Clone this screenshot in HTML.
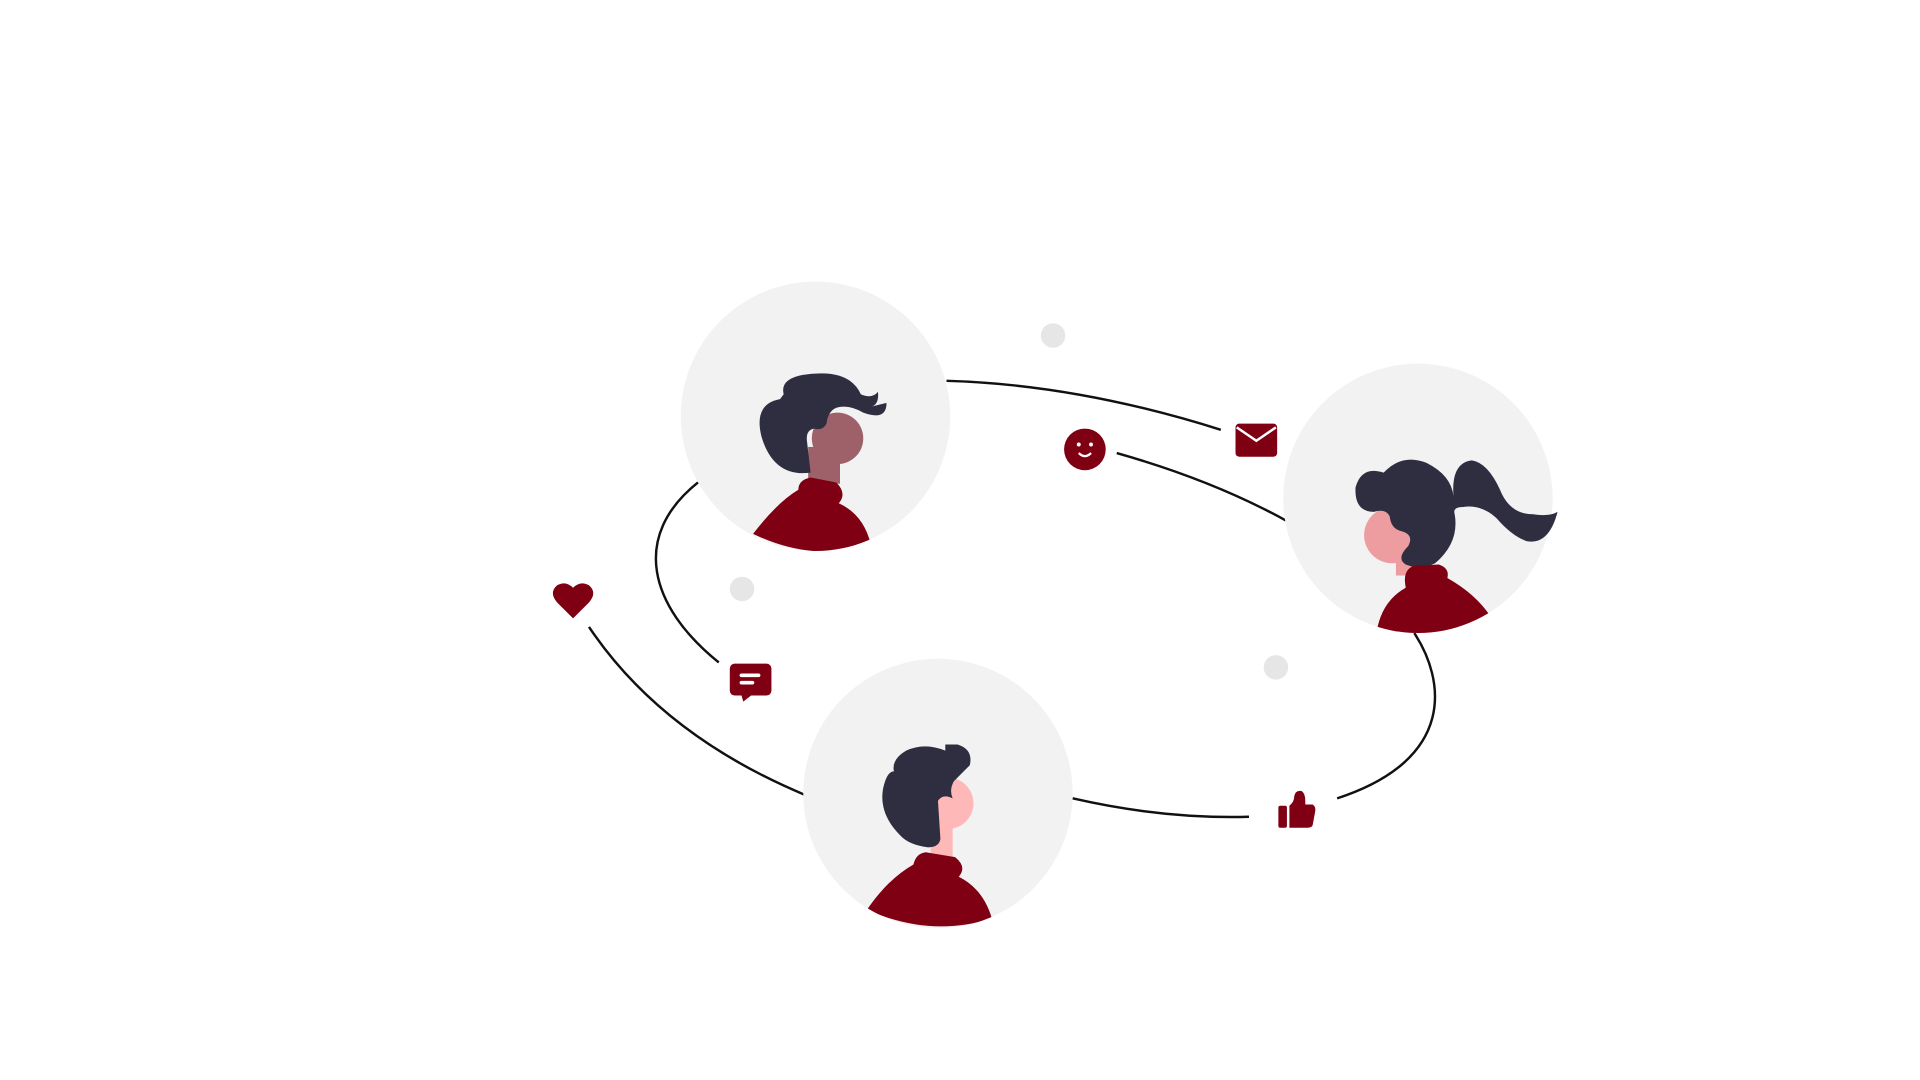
<!DOCTYPE html>
<html><head><meta charset="utf-8"><style>html,body{margin:0;padding:0;background:#fff;width:1920px;height:1080px;overflow:hidden}</style></head>
<body>
<svg width="1920" height="1080" viewBox="0 0 1568 882" preserveAspectRatio="none" xmlns="http://www.w3.org/2000/svg">
<defs>
<clipPath id="c1"><circle cx="666" cy="340" r="110"/></clipPath>
<clipPath id="c2"><circle cx="1158" cy="407" r="110"/></clipPath>
<clipPath id="c3"><circle cx="766" cy="648" r="110"/></clipPath>
</defs>
<g fill="none" stroke="#111" stroke-width="2">
<path d="M773,311 Q880,314 997,351"/>
<path d="M912,370 Q990,392 1050,425"/>
<path d="M570,394 C515,438 530,495 587,541"/>
<path d="M481,512 Q540,600 657,649"/>
<path d="M876,652 Q950,669 1020,667"/>
<path d="M1155,517 C1180,555 1190,620 1092,652"/>
</g>
<circle cx="666" cy="340" r="110" fill="#f2f2f2"/>
<circle cx="1158" cy="407" r="110" fill="#f2f2f2"/>
<circle cx="766" cy="648" r="110" fill="#f2f2f2"/>
<circle cx="860" cy="274" r="10" fill="#e6e6e6"/>
<circle cx="606" cy="481" r="10" fill="#e6e6e6"/>
<circle cx="1042" cy="545" r="10" fill="#e6e6e6"/>
<!-- person 1 -->
<g>
<rect x="660" y="365" width="26" height="30" fill="#9e616a"/>
<circle cx="684" cy="358" r="21" fill="#9e616a"/>
<path d="M640,322 Q636,306 668,305 Q695,304 703,322 Q712,326 717,320 Q718,330 712,332 L724,329 Q724,344 705,337 Q693,330 683,333 Q676,336 675,346 Q672,352 665,350 Q658,351 659,360 L662,386 Q632,390 622,357 Q615,330 637,326 Z" fill="#2f2e41"/>
<path d="M615,436 Q635,410 652,400 Q652,392 662,390 L683,394 Q692,403 685,411 Q705,420 711,444 Q665,460 615,436 Z" fill="#800013" clip-path="url(#c1)"/>
</g>
<!-- person 2 -->
<g>
<rect x="1140" y="445" width="20" height="25" fill="#ed9da0"/>
<circle cx="1137" cy="437" r="23" fill="#ed9da0"/>
<path d="M1130,386 Q1145,370 1165,378 Q1185,388 1187,405 Q1185,378 1202,376 Q1215,378 1225,400 Q1233,420 1252,420 Q1265,422 1272,418 Q1265,445 1247,442 Q1235,438 1222,423 Q1210,412 1195,414 Q1186,414 1188,420 Q1192,443 1172,460 Q1160,466 1148,461 Q1140,456 1150,446 Q1155,437 1145,434 Q1136,432 1135,422 Q1132,415 1122,418 Q1106,418 1107,398 Q1112,380 1130,386 Z" fill="#2f2e41"/>
<path d="M1125,512 Q1130,490 1148,480 Q1145,465 1155,462 L1175,461 Q1184,464 1182,472 Q1205,485 1217,503 Q1170,528 1125,512 Z" fill="#800013" clip-path="url(#c2)"/>
</g>
<!-- person 3 -->
<g>
<rect x="760" y="672" width="18" height="28" fill="#ffb8b8"/>
<circle cx="774" cy="656" r="21" fill="#ffb8b8"/>
<path d="M730,630 Q728,620 740,613 Q755,606 772,613 L772,608 L782,608 Q795,612 792,625 Q785,632 779,638 Q775,645 778,652 Q770,648 766,654 L768,685 Q767,692 758,692 Q742,690 735,682 Q718,665 721,645 Q724,630 730,630 Z" fill="#2f2e41"/>
<path d="M708,743 Q725,718 746,706 Q748,697 756,696 L780,700 Q790,708 783,716 Q803,726 810,750 Q760,766 708,743 Z" fill="#800013" clip-path="url(#c3)"/>
</g>
<!-- icons -->
<path d="M468,505 L455,492 Q448,484 455,478 Q462,474 468,480 Q474,474 481,478 Q488,484 481,492 Z" fill="#800013"/>
<rect x="596" y="542" width="34" height="26" rx="4" fill="#800013"/>
<path d="M605,566 L607,573 L616,566 Z" fill="#800013"/>
<rect x="604" y="550" width="17" height="3" rx="1.5" fill="#fff"/>
<rect x="604" y="556" width="12" height="3" rx="1.5" fill="#fff"/>
<circle cx="886" cy="367" r="17" fill="#800013"/>
<circle cx="881" cy="363" r="1.6" fill="#fff"/><circle cx="891" cy="363" r="1.6" fill="#fff"/>
<path d="M881,370 Q886,375 891,370" stroke="#fff" stroke-width="1.8" fill="none"/>
<rect x="1009" y="346" width="34" height="27" rx="3" fill="#800013"/>
<path d="M1010,349 L1026,360 L1042,349" stroke="#fff" stroke-width="2" fill="none"/>
<rect x="1044" y="658" width="7" height="18" rx="1.5" fill="#800013"/>
<path d="M1053,676 L1053,658 Q1057,655 1057,650 Q1058,645 1063,646 Q1066,648 1066,654 L1066,657 L1072,657 Q1075,659 1074,663 L1072,674 Q1071,676 1068,676 Z" fill="#800013"/>
</svg>
</body></html>
